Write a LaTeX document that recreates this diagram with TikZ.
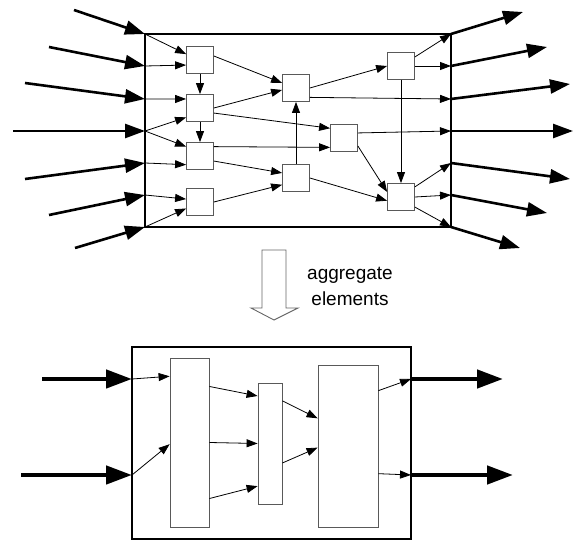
\documentclass[tikz,border=0pt]{standalone}
\usepackage{fontspec}
\setmainfont{Liberation Sans}
\usetikzlibrary{arrows.meta,calc}
\newcommand\elsize{27pt}
\tikzset{elem/.style={rectangle,draw=black!65,fill=white,thick,minimum size=\elsize,inner sep=0pt},
bar/.style={rectangle,draw=black!65,fill=white,thick,inner sep=0pt},
frame/.style={draw=black,line width=1.6pt},
link/.style={-{Triangle[length=11pt,width=8pt]},line width=0.8pt},
flow/.style={-{Triangle[length=20pt,width=14pt]},line width=2.6pt},
bigflow/.style={-{Triangle[length=26pt,width=18pt]},line width=4.5pt}}

\begin{document}
\begin{tikzpicture}[x=1pt,y=-1pt]
                \useasboundingbox (0,0) rectangle (574,540);
                \draw[frame] (145,34) rectangle (451,227);
                \foreach \i/\y in {1/34,2/66,3/99,4/131,5/163,6/195,7/227}{\coordinate (l\i) at (145,\y); \coordinate (r\i) at (451,\y);}
                \foreach \i/\x/\y in {1/74/10,2/49/47,3/25/83,4/13/131,5/25/179,6/49/215,7/75/248}{\coordinate (s\i) at (\x,\y); \draw[flow] (s\i) -- (l\i);}
                \foreach \i/\x/\y in {1/523/12,2/547/47,3/570/84,4/573/131,5/570/179,6/547/213,7/520/248}{\coordinate (e\i) at (\x,\y); \draw[flow] (r\i) -- (e\i);}

                \node[elem] (a1) at (200,60) {};
                \node[elem] (a2) at (200,108) {};
                \node[elem] (a3) at (200,156) {};
                \node[elem] (a4) at (200,202) {};
                \node[elem] (b1) at (296,88) {};
                \node[elem] (b2) at (296,178) {};
                \node[elem] (c) at (344,138) {};
                \node[elem] (d1) at (401,66) {};
                \node[elem] (d2) at (401,197) {};

                \draw[link] (l1) -- (a1.157);
                \draw[link] (l2) -- (a1.200);
                \draw[link] (l3) -- (a2.147);
                \draw[link] (l4) -- (a2.214);
                \draw[link] (l4) -- (a3.146);
                \draw[link] (l5) -- (a3.212);
                \draw[link] (l6) -- (a4.168);
                \draw[link] (l7) -- (a4.205);
                \draw[link] (a1) -- (a2);
                \draw[link] (a2) -- (a3);
                \draw[link] (a1.16) -- (b1.160);
                \draw[link] (a2.east) -- (b1.188);
                \draw[link] (a2.340) -- (c.145);
                \draw[link] (a3.34) -- (c.214);
                \draw[link] (a3.340) -- (b2.160);
                \draw[link] (a4.east) -- (b2.206);
                \draw[link] (b2) -- (b1);
                \draw[link] (b1.east) -- (d1.west);
                \draw[link] (b1.326) -- (r3);
                \draw[link] (c.20) -- (r4);
                \draw[link] (c.330) -- (d2.160);
                \draw[link] (b2.east) -- (d2.195);
                \draw[link] (d1) -- (d2);
                \draw[link] (d1.33) -- (r1);
                \draw[link] (d1.east) -- (r2);
                \draw[link] (d2.36) -- (r5);
                \draw[link] (d2.east) -- (r6);
                \draw[link] (d2.324) -- (r7);

                \draw[draw=black!60,line width=0.9pt,fill=white] (262,250) -- (286,250) -- (286,308) -- (298,308) -- (274,320) -- (251,308) -- (262,308) -- cycle;
                \node[align=center,font=\fontsize{19}{26}\selectfont] (agg) at (350,286) {aggregate\\elements};

                \draw[frame] (132,347) rectangle (411,539);
                \coordinate (bl1) at (132,379);
                \coordinate (bl2) at (132,475);
                \coordinate (br1) at (411,379);
                \coordinate (br2) at (411,475);
                \coordinate (bs1) at (42,379);
                \coordinate (bs2) at (21,475);
                \coordinate (be1) at (503,379);
                \coordinate (be2) at (513,475);
                \node[bar,minimum width=39pt,minimum height=169pt] (g1) at (189.5,442.5) {};
                \node[bar,minimum width=24pt,minimum height=121pt] (g2) at (270,443.5) {};
                \node[bar,minimum width=60pt,minimum height=162pt] (g3) at (348,446) {};
                \draw[bigflow] (bs1) -- (bl1);
                \draw[bigflow] (bs2) -- (bl2);
                \draw[bigflow] (br1) -- (be1);
                \draw[bigflow] (br2) -- (be2);
                \draw[link] (bl1) -- ($(g1.north west)!0.11!(g1.south west)$);
                \draw[link] (bl2) -- ($(g1.north west)!0.51!(g1.south west)$);
                \draw[link] ($(g1.north east)!0.17!(g1.south east)$) -- ($(g2.north west)!0.11!(g2.south west)$);
                \draw[link] ($(g1.north east)!0.5!(g1.south east)$) -- ($(g2.north west)!0.5!(g2.south west)$);
                \draw[link] ($(g1.north east)!0.83!(g1.south east)$) -- ($(g2.north west)!0.85!(g2.south west)$);
                \draw[link] ($(g2.north east)!0.15!(g2.south east)$) -- ($(g3.north west)!0.33!(g3.south west)$);
                \draw[link] ($(g2.north east)!0.66!(g2.south east)$) -- ($(g3.north west)!0.51!(g3.south west)$);
                \draw[link] ($(g3.north east)!0.16!(g3.south east)$) -- (br1);
                \draw[link] ($(g3.north east)!0.67!(g3.south east)$) -- (br2);
            \end{tikzpicture}
\end{document}
